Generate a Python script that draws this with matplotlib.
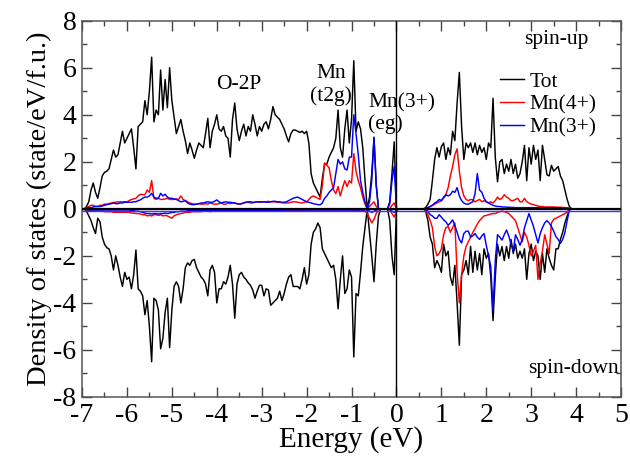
import numpy as np
import matplotlib
matplotlib.use("Agg")
import matplotlib.pyplot as plt
import matplotlib.transforms as mtransforms

SERIF = ['Liberation Serif', 'DejaVu Serif']
plt.rcParams['font.family'] = SERIF

# Energy grid (eV), step 0.05 from -7 to 4
energy = np.round(np.arange(-7.0, 4.0001, 0.05), 2)

# ---- spin-up total DOS (state/eV/f.u.) ----
tot_up = [
    0, 0, 0.1, 0.3, 0.8, 1.1, 0.7, 0.45, 0.9, 1.4, 1.55, 1.6, 1.7, 2.1, 2.5, 2.2, 2.3, 2.8, 3.3, 2.8,
    3.0, 3.2, 3.4, 2.6, 1.7, 3.5, 3.6, 3.7, 4.6, 4.0, 5.0, 6.45, 3.7, 4.2, 4.0, 5.9, 4.2, 5.5, 4.3, 6.0,
    4.6, 3.9, 3.2, 3.5, 3.8, 3.3, 2.9, 2.35, 2.8, 2.5, 2.15, 2.5, 2.8, 2.7, 2.6, 3.2, 3.85, 2.6, 3.3, 3.6,
    4.0, 3.4, 3.3, 3.5, 3.1, 3.0, 2.2, 3.8, 4.5, 3.4, 2.9, 3.3, 3.6, 3.1, 3.5, 3.3, 4.0, 3.6, 3.1, 3.5,
    3.3, 3.6, 3.7, 3.4, 3.8, 4.35, 4.0, 3.9, 3.8, 3.6, 3.4, 3.1, 2.85, 3.2, 3.35, 3.35, 3.3, 3.25, 3.3, 3.2,
    3.3, 2.8, 1.5, 1.1, 0.9, 0.7, 0.5, 1.3, 1.9, 1.9, 2.2, 2.4, 2.6, 3.0, 4.2, 2.6, 2.2, 3.4, 4.2, 2.8,
    3.8, 6.3, 3.3, 3.7, 3.4, 2.6, 1.2, 0.0, 0.5, 1.5, 3.05, 1.0, 0.0, 0.0, 0.0, 0.0, 0.0, 0.3, 1.5, 2.85,
    0, 0, 0, 0, 0, 0, 0, 0, 0, 0, 0, 0, 0, 0.05, 0.2, 0.4, 1.2, 2.1, 2.6, 2.2,
    2.65, 2.8, 2.1, 2.6, 2.3, 3.3, 2.9, 4.5, 5.8, 3.5, 2.1, 2.8, 2.6, 2.8, 2.4, 2.8, 2.3, 2.7, 2.4, 2.6,
    2.1, 2.8, 2.6, 4.7, 2.2, 1.15, 2.0, 2.1, 1.5, 1.9, 1.6, 2.1, 1.5, 1.9, 1.3, 1.5, 2.0, 2.7, 1.2, 2.6,
    1.9, 2.7, 2.1, 2.5, 1.2, 2.7, 2.1, 1.45, 1.4, 1.85, 1.6, 1.7, 1.8, 1.4, 1.2, 0.8, 0.4, 0.1, 0, 0,
    0,
]

# ---- spin-down total DOS ----
tot_dn = [
    0, 0, -0.1, -0.3, -0.5, -0.8, -1.05, -0.4, -0.55, -1.2, -1.5, -1.65, -1.7, -2.0, -2.6, -2.0, -2.4, -2.9, -3.3, -2.7,
    -3.0, -2.9, -3.4, -2.8, -1.75, -3.4, -3.5, -3.7, -4.5, -3.9, -5.0, -6.5, -3.8, -3.9, -4.3, -5.95, -5.5, -4.4, -3.8, -5.9,
    -4.3, -3.3, -3.1, -3.3, -4.0, -3.4, -2.5, -2.3, -2.4, -2.2, -2.15, -2.5, -2.7, -2.9, -3.0, -3.2, -3.7, -2.6, -2.4, -2.7,
    -4.0, -3.4, -3.4, -3.1, -3.2, -2.9, -2.4, -3.2, -4.65, -3.2, -2.8, -2.7, -2.9, -3.0, -3.15, -3.25, -3.45, -3.8, -3.5, -3.25,
    -3.25, -3.7, -3.4, -3.45, -4.1, -4.0, -3.9, -3.8, -3.5, -3.9, -3.6, -3.2, -2.9, -2.8, -3.3, -3.3, -3.3, -3.4, -3.0, -2.5,
    -3.2, -2.8, -1.5, -1.0, -0.85, -0.6, -0.8, -1.7, -1.9, -2.1, -2.3, -2.5, -2.4, -3.0, -4.25, -3.0, -2.0, -3.6, -3.4, -2.6,
    -2.9, -6.3, -3.6, -3.7, -2.7, -1.6, -0.8, 0.0, -1.0, -2.0, -3.1, -1.5, -0.3, 0, 0, 0, 0, -0.5, -2.0, -2.8,
    0, 0, 0, 0, 0, 0, 0, 0, 0, 0, 0, 0, 0, -0.1, -0.5, -1.2, -1.5, -2.5, -2.2, -2.4,
    -2.7, -1.5, -2.0, -1.8, -2.9, -3.25, -2.4, -4.0, -5.8, -2.8, -2.6, -2.2, -2.8, -1.6, -2.7, -1.8, -2.6, -1.9, -2.8, -1.7,
    -2.1, -1.9, -2.9, -4.75, -2.9, -1.5, -2.0, -1.6, -2.2, -1.6, -2.1, -1.3, -1.9, -1.5, -2.1, -1.8, -2.1, -1.7, -3.0, -1.9,
    -1.5, -2.2, -1.8, -2.0, -3.0, -1.9, -2.7, -1.7, -2.1, -2.4, -2.6, -1.7, -1.7, -1.3, -1.0, -0.6, -0.3, -0.05, 0, 0,
    0,
]

# ---- Mn(4+) partial DOS, spin up ----
mn4_up = [
    0, 0, 0.05, 0.1, 0.15, 0.15, 0.1, 0.1, 0.15, 0.15, 0.2, 0.2, 0.22, 0.25, 0.27, 0.28, 0.3, 0.3, 0.3, 0.3,
    0.3, 0.35, 0.4, 0.42, 0.45, 0.55, 0.62, 0.6, 0.6, 0.8, 0.7, 1.2, 0.45, 0.4, 0.45, 0.4, 0.4, 0.42, 0.45, 0.4,
    0.4, 0.4, 0.42, 0.4, 0.55, 0.4, 0.35, 0.3, 0.25, 0.22, 0.2, 0.2, 0.22, 0.2, 0.2, 0.22, 0.2, 0.25, 0.22, 0.2,
    0.2, 0.22, 0.25, 0.2, 0.2, 0.25, 0.22, 0.25, 0.25, 0.22, 0.2, 0.22, 0.25, 0.28, 0.28, 0.25, 0.25, 0.28, 0.3, 0.28,
    0.28, 0.3, 0.3, 0.32, 0.3, 0.3, 0.3, 0.28, 0.28, 0.26, 0.25, 0.25, 0.25, 0.28, 0.3, 0.3, 0.28, 0.26, 0.25, 0.28,
    0.3, 0.4, 0.5, 0.55, 0.5, 0.45, 0.4, 1.0, 1.95, 1.85, 1.75, 1.2, 0.8, 0.65, 0.95, 0.55, 0.9, 1.2, 0.95, 1.2,
    1.1, 2.35, 1.6, 1.2, 0.9, 0.5, 0.2, 0.0, 0.1, 0.2, 0.3, 0.1, 0, 0, 0, 0, 0, 0, 0.15, 0.25,
    0, 0, 0, 0, 0, 0, 0, 0, 0, 0, 0, 0, 0, 0.02, 0.05, 0.1, 0.15, 0.2, 0.25, 0.3,
    0.35, 0.45, 0.6, 0.9, 1.4, 1.8, 2.3, 2.55, 1.6, 0.9, 0.55, 0.4, 0.35, 0.4, 0.38, 0.3, 0.35, 0.4, 0.3, 0.35,
    0.3, 0.25, 0.3, 0.25, 0.35, 0.5, 0.4, 0.45, 0.6, 0.5, 0.45, 0.35, 0.35, 0.4, 0.45, 0.3, 0.3, 0.45, 0.3, 0.25,
    0.2, 0.18, 0.15, 0.12, 0.1, 0.1, 0.08, 0.08, 0.08, 0.08, 0.08, 0.07, 0.07, 0.07, 0.06, 0.05, 0.05, 0.03, 0, 0,
    0,
]

# ---- Mn(3+) partial DOS, spin up ----
mn3_up = [
    0, 0, 0.03, 0.05, 0.05, 0.08, 0.1, 0.1, 0.1, 0.12, 0.15, 0.18, 0.2, 0.22, 0.25, 0.22, 0.22, 0.25, 0.25, 0.28,
    0.28, 0.28, 0.28, 0.3, 0.3, 0.35, 0.38, 0.45, 0.5, 0.5, 0.55, 0.66, 0.5, 0.45, 0.45, 0.66, 0.55, 0.62, 0.5, 0.45,
    0.45, 0.42, 0.4, 0.35, 0.3, 0.32, 0.35, 0.25, 0.2, 0.18, 0.18, 0.2, 0.22, 0.25, 0.25, 0.28, 0.3, 0.28, 0.28, 0.32,
    0.38, 0.3, 0.25, 0.28, 0.3, 0.28, 0.28, 0.26, 0.25, 0.22, 0.2, 0.22, 0.25, 0.28, 0.3, 0.3, 0.28, 0.28, 0.3, 0.3,
    0.3, 0.3, 0.28, 0.28, 0.3, 0.32, 0.32, 0.3, 0.3, 0.28, 0.28, 0.3, 0.35, 0.4, 0.45, 0.48, 0.5, 0.45, 0.4, 0.35,
    0.3, 0.28, 0.25, 0.22, 0.2, 0.18, 0.17, 0.25, 0.45, 0.55, 0.7, 0.8, 0.9, 1.5, 2.1, 1.9, 2.0, 1.7, 1.65, 2.2,
    2.2, 4.0, 3.2, 2.3, 1.2, 0.7, 0.3, 0, 0.3, 1.2, 3.0, 1.0, 0, 0, 0, 0, 0, 0.2, 1.2, 1.8,
    0, 0, 0, 0, 0, 0, 0, 0, 0, 0, 0, 0, 0, 0.02, 0.05, 0.1, 0.15, 0.25, 0.3, 0.4,
    0.35, 0.5, 0.6, 0.55, 0.6, 0.75, 0.7, 0.9, 0.55, 0.35, 0.25, 0.2, 0.2, 0.25, 0.3, 0.65, 1.5, 0.8, 0.7, 0.45,
    0.3, 0.25, 0.2, 0.15, 0.12, 0.1, 0.1, 0.08, 0.08, 0.07, 0.07, 0.06, 0.06, 0.05, 0.05, 0.05, 0.05, 0.05, 0.05, 0.05,
    0.05, 0.05, 0.05, 0.05, 0.05, 0.05, 0.05, 0.05, 0.05, 0.05, 0.05, 0.04, 0.04, 0.04, 0.03, 0.03, 0.02, 0.01, 0, 0,
    0,
]

# ---- Mn(4+) partial DOS, spin down ----
mn4_dn = [
    0, 0, -0.05, -0.08, -0.1, -0.1, -0.1, -0.1, -0.1, -0.1, -0.12, -0.12, -0.12, -0.12, -0.15, -0.15, -0.15, -0.15, -0.15, -0.15,
    -0.15, -0.15, -0.18, -0.18, -0.2, -0.2, -0.22, -0.25, -0.25, -0.3, -0.28, -0.3, -0.25, -0.25, -0.28, -0.25, -0.3, -0.28, -0.3, -0.35,
    -0.4, -0.3, -0.25, -0.22, -0.2, -0.18, -0.15, -0.15, -0.15, -0.12, -0.12, -0.12, -0.12, -0.12, -0.1, -0.1, -0.1, -0.12, -0.1, -0.1,
    -0.1, -0.1, -0.1, -0.1, -0.1, -0.1, -0.1, -0.1, -0.1, -0.1, -0.1, -0.1, -0.1, -0.1, -0.08, -0.08, -0.08, -0.08, -0.08, -0.08,
    -0.08, -0.08, -0.08, -0.08, -0.08, -0.08, -0.08, -0.08, -0.08, -0.08, -0.08, -0.08, -0.08, -0.08, -0.08, -0.08, -0.08, -0.08, -0.08, -0.08,
    -0.08, -0.08, -0.05, -0.05, -0.05, -0.05, -0.05, -0.05, -0.05, -0.05, -0.05, -0.05, -0.05, -0.05, -0.05, -0.05, -0.05, -0.05, -0.05, -0.05,
    -0.05, -0.08, -0.08, -0.05, -0.05, -0.05, -0.1, -0.2, -0.4, -0.6, -0.45, -0.2, 0, 0, 0, 0, 0, -0.05, -0.2, -0.35,
    -0.1, 0, 0, 0, 0, 0, 0, 0, 0, 0, 0, 0, 0, -0.05, -0.25, -0.5, -0.8, -1.6, -2.0, -1.9,
    -1.7, -1.1, -0.8, -0.75, -1.0, -0.8, -0.6, -2.7, -4.0, -2.8, -2.0, -1.6, -1.4, -1.2, -1.0, -0.83, -0.65, -0.5, -0.4, -0.3,
    -0.28, -0.25, -0.22, -0.2, -0.2, -0.15, -0.12, -0.1, -0.12, -0.15, -0.2, -0.3, -0.4, -0.5, -0.8, -1.1, -1.4, -1.0, -1.2, -1.55,
    -2.0, -1.8, -1.55, -3.0, -2.3, -1.8, -1.1, -1.5, -1.9, -0.6, -0.45, -0.4, -0.35, -0.3, -0.25, -0.2, -0.15, 0, 0, 0,
    0,
]

# ---- Mn(3+) partial DOS, spin down ----
mn3_dn = [
    0, 0, -0.03, -0.05, -0.05, -0.05, -0.05, -0.05, -0.05, -0.05, -0.05, -0.05, -0.05, -0.05, -0.05, -0.05, -0.05, -0.05, -0.05, -0.05,
    -0.05, -0.05, -0.08, -0.08, -0.1, -0.1, -0.12, -0.15, -0.18, -0.2, -0.2, -0.22, -0.2, -0.2, -0.22, -0.2, -0.2, -0.18, -0.2, -0.18,
    -0.15, -0.15, -0.12, -0.12, -0.1, -0.1, -0.1, -0.08, -0.08, -0.08, -0.08, -0.08, -0.08, -0.08, -0.08, -0.08, -0.08, -0.08, -0.08, -0.08,
    -0.08, -0.08, -0.08, -0.08, -0.08, -0.08, -0.08, -0.08, -0.08, -0.08, -0.08, -0.08, -0.08, -0.08, -0.08, -0.08, -0.08, -0.08, -0.08, -0.08,
    -0.08, -0.08, -0.08, -0.08, -0.08, -0.08, -0.08, -0.08, -0.08, -0.08, -0.05, -0.05, -0.05, -0.05, -0.05, -0.05, -0.05, -0.05, -0.05, -0.05,
    -0.05, -0.05, -0.05, -0.05, -0.05, -0.05, -0.05, -0.05, -0.05, -0.05, -0.05, -0.05, -0.05, -0.05, -0.05, -0.05, -0.05, -0.05, -0.05, -0.05,
    -0.05, -0.05, -0.05, -0.05, -0.05, -0.05, -0.05, 0, -0.1, -0.15, -0.1, -0.05, 0, 0, 0, 0, 0, 0, -0.1, -0.15,
    -0.05, 0, 0, 0, 0, 0, 0, 0, 0, 0, 0, 0, 0, -0.03, -0.1, -0.25, -0.3, -0.4, -0.4, -0.25,
    -0.35, -0.47, -0.55, -0.7, -0.6, -0.47, -0.7, -1.0, -1.3, -1.45, -1.05, -0.95, -0.95, -1.2, -1.15, -1.05, -1.2, -1.3, -1.15, -1.05,
    -1.55, -2.0, -2.45, -4.3, -2.2, -1.1, -1.2, -1.33, -1.1, -0.9, -1.15, -1.5, -1.8, -1.1, -1.3, -1.55, -1.3, -0.8, -0.5, -0.2,
    -0.47, -0.75, -1.1, -1.45, -1.05, -0.8, -0.6, -0.5, -0.6, -0.75, -0.95, -1.18, -1.3, -1.47, -1.3, -1.0, -0.5, -0.05, 0, 0,
    0,
]

legend_labels = ['Tot', 'Mn(4+)', 'Mn(3+)']
x_ticks = list(range(-7, 6))
y_ticks = list(range(-8, 9, 2))

fig = plt.figure(figsize=(6.3, 4.58), dpi=100)
ax = fig.add_axes([0.1302, 0.1332, 0.8556, 0.8216])

lw = 1.05
h_tot, = ax.plot(energy, tot_up, color='black', lw=lw, zorder=3)
ax.plot(energy, tot_dn, color='black', lw=lw, zorder=3)
h_mn4, = ax.plot(energy, mn4_up, color='red', lw=lw, zorder=4)
ax.plot(energy, mn4_dn, color='red', lw=lw, zorder=4)
h_mn3, = ax.plot(energy, mn3_up, color='blue', lw=lw, zorder=5)
ax.plot(energy, mn3_dn, color='blue', lw=lw, zorder=5)

# zero lines (black, with the blue baseline just beneath it)
ax.axhline(0, color='black', lw=1.6, zorder=6)
off = mtransforms.ScaledTranslation(0, -1.5 / 72, fig.dpi_scale_trans)
ax.plot([0, 1], [0, 0], color='#3333ff', lw=1.0, zorder=6,
        transform=ax.get_yaxis_transform() + off)
ax.axvline(0, color='black', lw=1.0, zorder=6)

ax.set_xlim(-7, 5)
ax.set_ylim(-8, 8)
ax.set_xticks(x_ticks)
ax.set_yticks(y_ticks)
ax.set_xticks(np.arange(-7, 5.01, 0.5), minor=True)
ax.set_yticks(np.arange(-8, 8.01, 1), minor=True)
ax.set_xticklabels([str(t) for t in x_ticks], family=SERIF, fontsize=20)
ax.set_yticklabels([str(t) for t in y_ticks], family=SERIF, fontsize=20)
ax.tick_params(which='both', direction='in', top=True, right=True,
               color='#444444', width=1.0)
ax.tick_params(axis='x', which='major', length=7.5, pad=4)
ax.tick_params(axis='y', which='major', length=7.5, pad=4)
ax.tick_params(which='minor', length=3.5)
for s in ax.spines.values():
    s.set_color('#555555')
    s.set_linewidth(1.1)

ax.set_xlabel('Energy (eV)', fontsize=21, labelpad=-1, family=SERIF)
ax.set_ylabel('Density of states (state/eV/f.u.)', fontsize=20.5, labelpad=1, family=SERIF)

ax.text(-3.5, 5.3, 'O-2P', fontsize=15.5, ha='center', va='center')
ax.text(-1.45, 5.75, 'Mn', fontsize=15.5, ha='center', va='center')
ax.text(-1.45, 4.8, '(t2g)', fontsize=15.5, ha='center', va='center')
ax.text(-0.63, 4.5, 'Mn(3+)', fontsize=15.5, ha='left', va='center')
ax.text(-0.63, 3.6, '(eg)', fontsize=15.5, ha='left', va='center')
ax.text(4.27, 7.2, 'spin-up', fontsize=15.5, ha='right', va='center')
ax.text(4.94, -6.77, 'spin-down', fontsize=15.5, ha='right', va='center')

ax.legend([h_tot, h_mn4, h_mn3], legend_labels, frameon=False, loc='upper left',
          bbox_to_anchor=(0.776, 0.864), fontsize=15.5, handlelength=1.1,
          handletextpad=0.25, labelspacing=0.12, borderaxespad=0, borderpad=0)

fig.savefig('out.png', dpi=100)
